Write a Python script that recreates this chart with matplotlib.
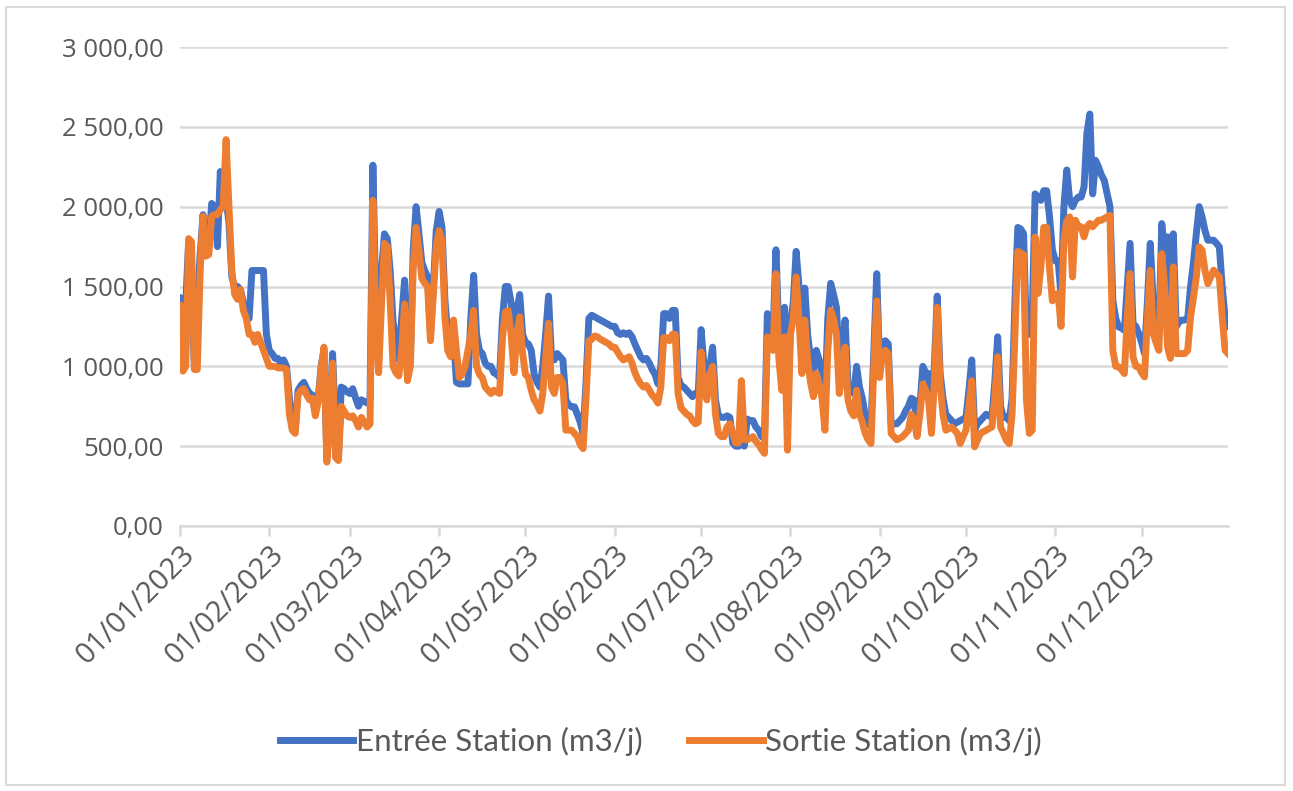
import numpy as np
import pandas as pd
import matplotlib.pyplot as plt
import matplotlib.dates as mdates
from matplotlib.ticker import FuncFormatter
from matplotlib.patches import Rectangle

# Débits journaliers 2023 (m3/j), lus mois par mois
entree_jan = [1430, 1420, 1400, 1780, 1500, 1000, 1400, 1700, 1950, 1700, 1750, 2020, 2000, 1750, 2220, 2000,
              2050, 1900, 1560, 1500, 1500, 1480, 1400, 1340, 1300, 1600, 1600, 1600, 1600, 1600, 1200]
sortie_jan = [1380, 970, 1000, 1800, 1780, 980, 980, 1600, 1940, 1690, 1700, 1940, 1950, 1950, 1980, 2000,
              2420, 2000, 1600, 1450, 1420, 1480, 1350, 1300, 1200, 1200, 1150, 1200, 1150, 1100, 1050]
entree_fev = [1100, 1080, 1050, 1050, 1020, 1040, 1000, 800, 620, 600, 850, 880, 900, 860, 830, 820,
              720, 800, 1000, 1100, 430, 700, 1080, 600, 420, 870, 860, 840]
sortie_fev = [1000, 1000, 1000, 990, 990, 990, 980, 700, 600, 580, 820, 850, 860, 820, 790, 800,
              690, 780, 980, 1120, 400, 680, 1020, 430, 410, 750, 720, 690]
entree_mar = [830, 860, 800, 750, 790, 780, 770, 790, 2260, 1400, 1200, 1600, 1830, 1800, 1600, 1280,
              1160, 1040, 1300, 1540, 960, 1040, 1730, 2000, 1830, 1650, 1600, 1560, 1200, 1500, 1850]
sortie_mar = [680, 690, 660, 620, 680, 650, 620, 640, 2040, 1250, 960, 1400, 1770, 1750, 1410, 1000,
              960, 940, 1100, 1390, 910, 1000, 1620, 1870, 1730, 1550, 1520, 1500, 1160, 1450, 1750]
entree_avr = [1970, 1870, 1420, 1200, 1080, 1200, 900, 890, 890, 890, 890, 1300, 1570, 1200, 1100, 1080,
              1020, 1000, 1000, 960, 950, 930, 1300, 1500, 1500, 1400, 1200, 1350, 1450, 1200]
sortie_avr = [1850, 1790, 1310, 1100, 1060, 1290, 1100, 930, 950, 1000, 1100, 1200, 1350, 1000, 950, 930,
              870, 850, 830, 850, 840, 830, 1180, 1340, 1350, 1200, 960, 1200, 1310, 1080]
entree_mai = [1150, 1140, 1100, 950, 900, 870, 1000, 1200, 1440, 1060, 1040, 1080, 1060, 1040, 790, 760,
              746, 746, 700, 650, 580, 890, 1300, 1320, 1310, 1300, 1290, 1280, 1270, 1260, 1250]
sortie_mai = [950, 930, 850, 790, 760, 720, 830, 1050, 1270, 870, 830, 930, 930, 890, 600, 600,
              600, 580, 560, 510, 485, 790, 1160, 1170, 1190, 1185, 1170, 1160, 1150, 1140, 1120]
entree_jun = [1250, 1210, 1200, 1210, 1200, 1210, 1185, 1140, 1100, 1060, 1040, 1050, 1020, 980, 950, 890,
              1000, 1330, 1330, 1300, 1350, 1350, 930, 880, 870, 850, 830, 810, 830, 830]
sortie_jun = [1120, 1090, 1060, 1040, 1050, 1060, 1020, 960, 920, 890, 870, 880, 850, 820, 800, 770,
              870, 1180, 1180, 1160, 1200, 1200, 830, 740, 720, 700, 690, 660, 640, 650]
entree_jul = [1230, 1000, 930, 1000, 1120, 790, 690, 680, 680, 690, 680, 520, 500, 500, 520, 500,
              670, 660, 660, 620, 600, 560, 550, 1330, 1250, 1200, 1730, 1200, 890, 1370, 700]
sortie_jul = [1090, 850, 790, 950, 1000, 700, 580, 560, 560, 620, 640, 580, 520, 520, 910, 540,
              540, 550, 560, 530, 510, 480, 455, 1185, 1120, 1100, 1580, 1050, 850, 1185, 475]
entree_aou = [1250, 1400, 1720, 1500, 1000, 1490, 1200, 1050, 980, 1100, 1040, 950, 790, 1300, 1520, 1450,
              1370, 1000, 1100, 1290, 890, 850, 830, 1000, 870, 800, 690, 650, 620, 1100, 1580]
sortie_aou = [1200, 1300, 1560, 1300, 955, 1290, 1040, 900, 810, 955, 890, 800, 600, 1100, 1350, 1300,
              1200, 830, 950, 1120, 790, 720, 690, 850, 700, 650, 580, 540, 516, 1000, 1410]
entree_sep = [1000, 1150, 1160, 1140, 640, 640, 640, 660, 680, 720, 750, 800, 790, 600, 750, 1000,
              960, 955, 620, 1000, 1440, 960, 800, 700, 680, 660, 640, 650, 660, 670]
sortie_sep = [930, 1080, 1100, 1080, 580, 560, 540, 550, 560, 580, 600, 700, 660, 560, 700, 890,
              850, 790, 580, 900, 1370, 890, 700, 600, 610, 620, 600, 580, 516, 560]
entree_oct = [680, 850, 1040, 600, 640, 660, 680, 700, 690, 680, 900, 1185, 750, 680, 683, 660,
              800, 1410, 1870, 1860, 1830, 1200, 1200, 1300, 2080, 2060, 2040, 2100, 2100, 1940, 1730]
sortie_oct = [600, 750, 910, 496, 540, 580, 590, 600, 610, 620, 800, 1060, 620, 580, 537, 516,
              700, 1200, 1720, 1710, 1700, 790, 580, 600, 1810, 1456, 1620, 1870, 1870, 1620, 1410]
entree_nov = [1660, 1660, 1450, 2000, 2230, 2040, 2000, 2040, 2060, 2060, 2124, 2460, 2580, 2080, 2290, 2250,
              2200, 2166, 2082, 2000, 1414, 1300, 1247, 1240, 1226, 1500, 1770, 1268, 1250, 1205]
sortie_nov = [1450, 1456, 1250, 1790, 1910, 1936, 1560, 1915, 1874, 1874, 1811, 1874, 1895, 1874, 1895, 1915,
              1915, 1926, 1936, 1946, 1100, 1000, 997, 980, 955, 1300, 1581, 1060, 1000, 997]
entree_dec = [1150, 1080, 1400, 1770, 1414, 1300, 1205, 1894, 1700, 1811, 1122, 1830, 1247, 1280, 1290, 1290,
              1300, 1498, 1650, 1830, 2000, 1936, 1850, 1790, 1790, 1790, 1770, 1748, 1498, 1300, 1250]
sortie_dec = [960, 934, 1300, 1600, 1205, 1150, 1100, 1706, 1500, 1122, 1050, 1623, 1080, 1080, 1080, 1080,
              1100, 1310, 1430, 1560, 1748, 1727, 1600, 1518, 1560, 1602, 1580, 1560, 1310, 1100, 1080]

entree = (entree_jan + entree_fev + entree_mar + entree_avr + entree_mai + entree_jun
          + entree_jul + entree_aou + entree_sep + entree_oct + entree_nov + entree_dec)
sortie = (sortie_jan + sortie_fev + sortie_mar + sortie_avr + sortie_mai + sortie_jun
          + sortie_jul + sortie_aou + sortie_sep + sortie_oct + sortie_nov + sortie_dec)
dates = pd.date_range("2023-01-01", "2023-12-31", freq="D")

bleu = "#4472C4"
orange = "#ED7D31"
gris_texte = "#595959"
gris_grille = "#D9D9D9"

plt.rcParams["font.family"] = ["Open Sans", "DejaVu Sans"]

fig = plt.figure(figsize=(12.93, 7.91), dpi=100)
ax = fig.add_axes([180 / 1293, 1 - 526 / 791, 1048 / 1293, 479 / 791])

ax.plot(dates, entree, color=bleu, lw=5, label="Entrée Station (m3/j)", solid_joinstyle="round")
ax.plot(dates, sortie, color=orange, lw=5, label="Sortie Station (m3/j)", solid_joinstyle="round")

ax.set_ylim(0, 3000)
ax.set_yticks(np.arange(0, 3001, 500))
ax.yaxis.set_major_formatter(FuncFormatter(lambda v, p: f"{v:,.2f}".replace(",", " ").replace(".", ",")))
ax.set_xlim(dates[0], dates[-1])
ax.xaxis.set_major_locator(mdates.MonthLocator())
ax.xaxis.set_major_formatter(mdates.DateFormatter("%d/%m/%Y"))

ax.grid(axis="y", color=gris_grille, lw=1.8)
ax.set_axisbelow(True)
for s in ["top", "right", "left"]:
    ax.spines[s].set_visible(False)
ax.spines["bottom"].set_color(gris_grille)
ax.spines["bottom"].set_linewidth(1.8)
ax.tick_params(axis="y", length=0, pad=12, labelsize=18.5, labelcolor=gris_texte)
ax.tick_params(axis="x", length=7, width=1.8, color=gris_grille, labelsize=21, labelcolor=gris_texte, pad=3)
for lab in ax.get_xticklabels():
    lab.set_rotation(45)
    lab.set_ha("right")
    lab.set_rotation_mode("anchor")

fig.legend(loc="center", bbox_to_anchor=(661 / 1293, 1 - 741 / 791), ncol=2, frameon=False,
           prop={"family": "Lato", "size": 22.5}, labelcolor=gris_texte, handlelength=2.35,
           handletextpad=0.08, columnspacing=1.5)

fig.patches.append(Rectangle((6 / 1293, 6 / 791), 1279 / 1293, 778 / 791, transform=fig.transFigure,
                             fill=False, edgecolor=gris_grille, lw=1.5))

fig.savefig("out.png", dpi=100)
